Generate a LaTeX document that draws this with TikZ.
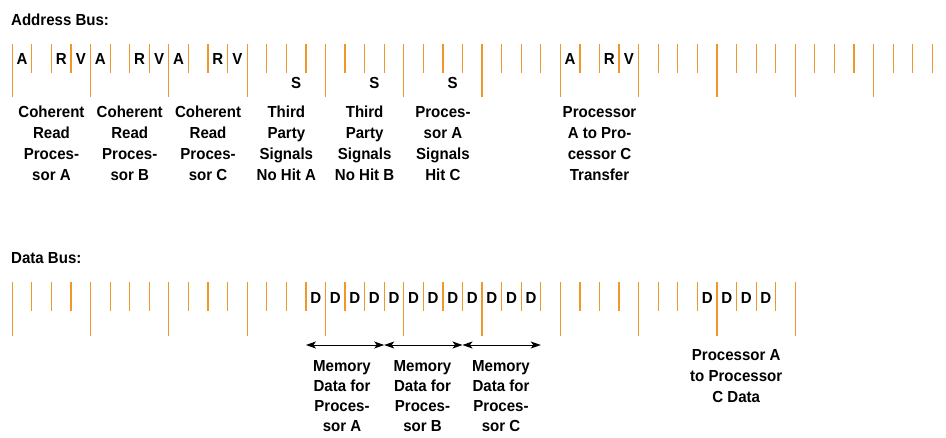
\documentclass[tikz,border=0pt]{standalone}
\usepackage{fontspec}
\setmainfont{Liberation Sans}[FakeStretch=0.94]
\usetikzlibrary{arrows.meta}
\definecolor{tickcol}{RGB}{238,152,42}
\newcommand{\labfont}{\fontsize{16}{21.2}\selectfont\bfseries}
\newcommand{\memfont}{\fontsize{16}{20.2}\selectfont\bfseries}
\begin{document}
\begin{tikzpicture}[x=1pt,y=-1pt,
  tickline/.style={draw=tickcol,line width=1.2pt},
  letter/.style={font=\labfont,inner sep=0pt,anchor=base},
  title/.style={font=\labfont,inner sep=0pt,anchor=base west},
  lab/.style={font=\labfont,inner sep=0pt,anchor=base,align=center},
  memlab/.style={font=\memfont,inner sep=0pt,anchor=base,align=center},
  span/.style={draw=black,line width=1pt,{Stealth[length=10pt,width=7pt,inset=2.5pt]}-{Stealth[length=10pt,width=7pt,inset=2.5pt]}}]
\useasboundingbox (0,0) rectangle (946,437);
% titles
\node[title] (taddr) at (11,25) {Address Bus:};
\node[title] (tdata) at (11,263.5) {Data Bus:};
% address ticks
\foreach \i in {0,...,47}{
  \pgfmathtruncatemacro\m{mod(\i,4)}
  \ifnum\m=0 \def\yb{97.3}\else\def\yb{72.7}\fi
  \draw[tickline] ({12.3+19.574*\i},44) -- ({12.3+19.574*\i},\yb);
}
% data ticks
\foreach \i in {0,...,40}{
  \pgfmathtruncatemacro\m{mod(\i,4)}
  \ifnum\m=0 \def\yb{336}\else\def\yb{311}\fi
  \draw[tickline] ({12.3+19.574*\i},282) -- ({12.3+19.574*\i},\yb);
}
% address letters
\foreach \i/\l in {0/A,2/R,3/V,4/A,6/R,7/V,8/A,10/R,11/V,28/A,30/R,31/V}{
  \node[letter] (ad\i) at ({12.3+19.574*(\i+0.5)},64) {\l};
}
\foreach \i in {14,18,22}{
  \node[letter] (s\i) at ({12.3+19.574*(\i+0.5)},88.3) {S};
}
% data letters
\foreach \i in {15,...,26,35,36,37,38}{
  \node[letter] (d\i) at ({12.3+19.574*(\i+0.5)},303.3) {D};
}
% address labels (anchor = baseline of last line)
\node[lab] (l2) at ({12.3+19.574*2},180.9) {Coherent\\Read\\Proces-\\sor A};
\node[lab] (l6) at ({12.3+19.574*6},180.9) {Coherent\\Read\\Proces-\\sor B};
\node[lab] (l10) at ({12.3+19.574*10},180.9) {Coherent\\Read\\Proces-\\sor C};
\node[lab] (l14) at ({12.3+19.574*14},180.9) {Third\\Party\\Signals\\No Hit A};
\node[lab] (l18) at ({12.3+19.574*18},180.9) {Third\\Party\\Signals\\No Hit B};
\node[lab] (l22) at ({12.3+19.574*22},180.9) {Proces-\\sor A\\Signals\\Hit C};
\node[lab] (l30) at ({12.3+19.574*30},180.9) {Processor\\A to Pro-\\cessor C\\Transfer};
% data arrows
\coordinate (m15) at ({12.3+19.574*15},345);
\coordinate (m19) at ({12.3+19.574*19},345);
\coordinate (m23) at ({12.3+19.574*23},345);
\coordinate (m27) at ({12.3+19.574*27},345);
\draw[span] (m15) -- (m19);
\draw[span] (m19) -- (m23);
\draw[span] (m23) -- (m27);
% data labels
\node[memlab] (mA) at (342,431.9) {Memory\\Data for\\Proces-\\sor A};
\node[memlab] (mB) at (422.5,431.9) {Memory\\Data for\\Proces-\\sor B};
\node[memlab] (mC) at (501,431.9) {Memory\\Data for\\Proces-\\sor C};
\node[lab] (pc) at (736.2,402.4) {Processor A\\to Processor\\C Data};
\end{tikzpicture}
\end{document}
